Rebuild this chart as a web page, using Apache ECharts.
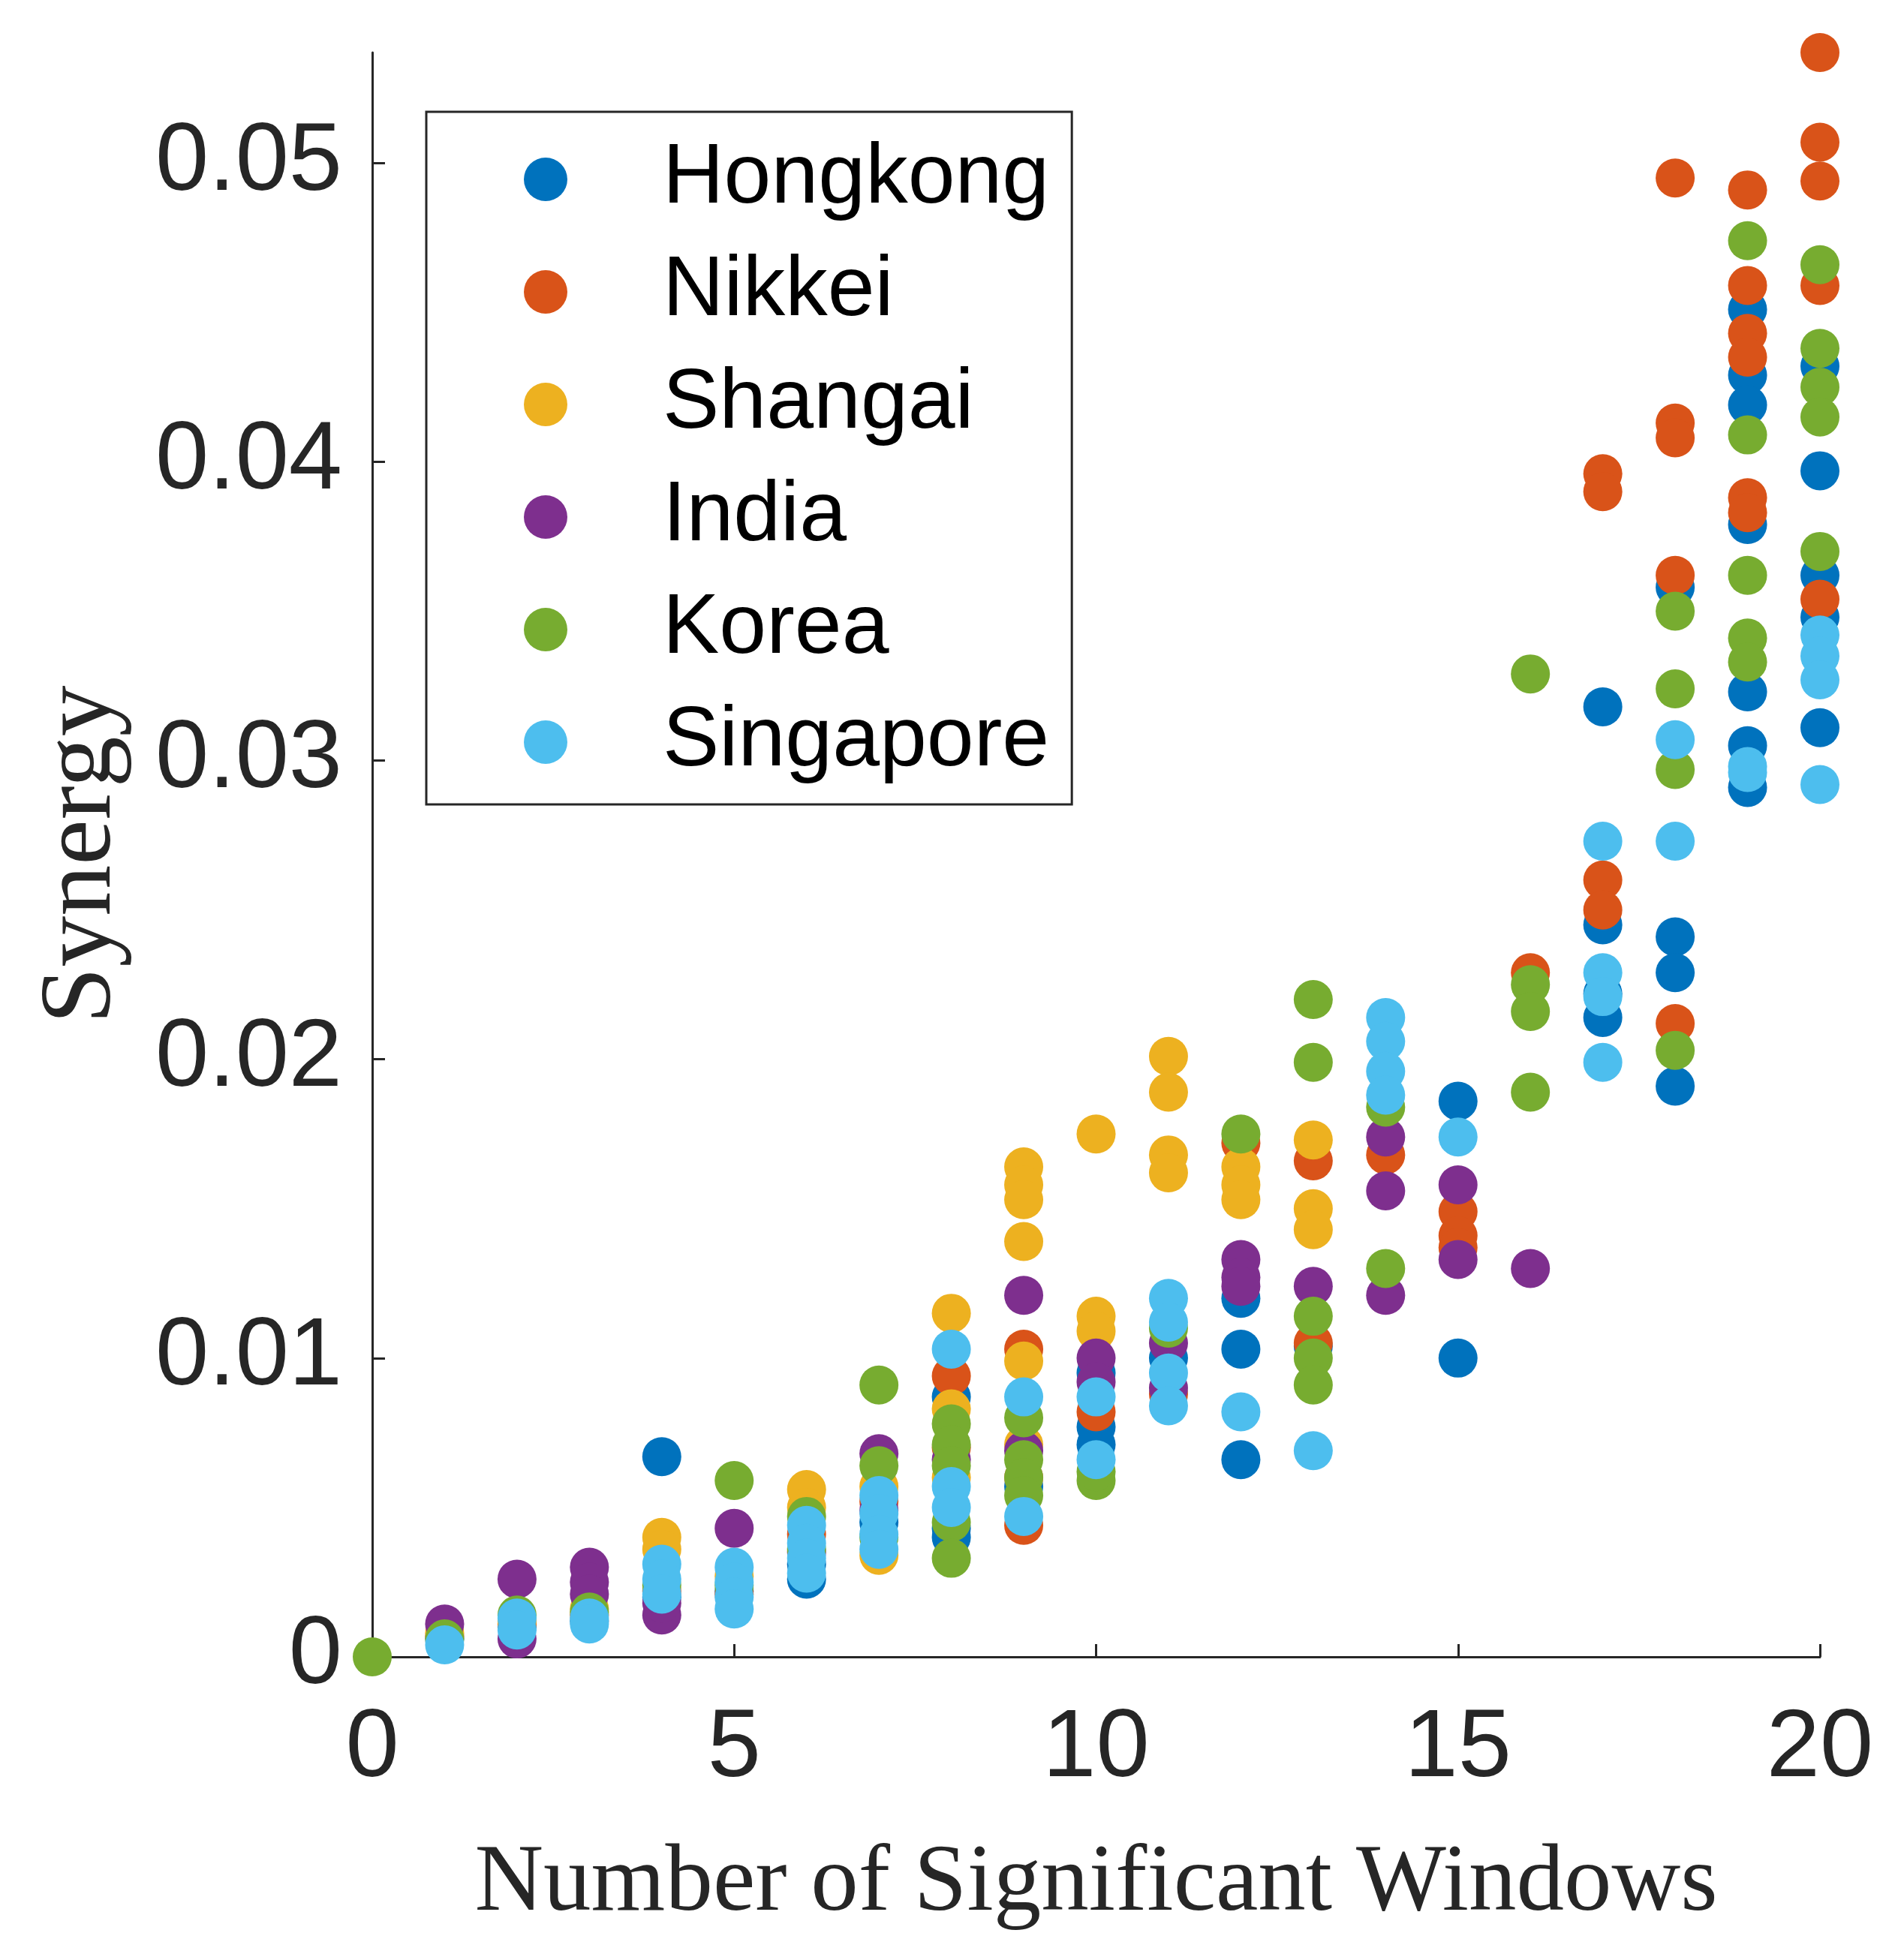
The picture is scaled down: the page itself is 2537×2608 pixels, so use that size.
<!DOCTYPE html>
<html>
<head>
<meta charset="utf-8">
<script src="https://cdn.jsdelivr.net/npm/echarts@6/dist/echarts.min.js"></script>
<style>
  html, body { margin: 0; padding: 0; background: #fff; }
  #chart { width: 2537px; height: 2608px; }
</style>
</head>
<body>
<div id="chart"></div>
<script>
// [windows, synergy] pairs per market
const hongkong = [
  [1, 0.0006], [2, 0.0010], [3, 0.0012], [4, 0.0067], [4, 0.0020], [5, 0.0022],
  [6, 0.0026], [6, 0.0031], [7, 0.0045], [8, 0.0087], [8, 0.0043], [8, 0.0040],
  [9, 0.0057], [10, 0.0095], [10, 0.0077], [10, 0.0071], [11, 0.0100],
  [12, 0.0120], [12, 0.0103], [12, 0.0066], [13, 0.0104], [15, 0.0186], [15, 0.0100],
  [17, 0.0318], [17, 0.0245], [17, 0.0222], [17, 0.0214],
  [18, 0.0358], [18, 0.0241], [18, 0.0229], [18, 0.0191],
  [19, 0.0451], [19, 0.0429], [19, 0.0419], [19, 0.0379], [19, 0.0323], [19, 0.0305], [19, 0.0291],
  [20, 0.0432], [20, 0.0397], [20, 0.0362], [20, 0.0348], [20, 0.0311]
];
const nikkei = [
  [1, 0.0007], [2, 0.0011], [3, 0.0014], [4, 0.0022], [5, 0.0021], [6, 0.0041],
  [7, 0.0052], [8, 0.0094], [8, 0.0070], [9, 0.0103], [9, 0.0060], [9, 0.0044],
  [10, 0.0082], [11, 0.0088], [12, 0.0172], [13, 0.0166], [13, 0.0105], [14, 0.0168],
  [15, 0.0149], [15, 0.0141], [15, 0.0137], [16, 0.0229],
  [17, 0.0396], [17, 0.0390], [17, 0.0260], [17, 0.0250],
  [18, 0.0495], [18, 0.0413], [18, 0.0408], [18, 0.0362], [18, 0.0212],
  [19, 0.0491], [19, 0.0459], [19, 0.0443], [19, 0.0435], [19, 0.0388], [19, 0.0383],
  [20, 0.0537], [20, 0.0507], [20, 0.0494], [20, 0.0459], [20, 0.0354]
];
const shangai = [
  [1, 0.0008], [2, 0.0012], [3, 0.0016], [4, 0.0040], [4, 0.0036], [5, 0.0027],
  [6, 0.0056], [6, 0.0050], [7, 0.0034], [7, 0.0057], [8, 0.0115], [8, 0.0083], [8, 0.0060],
  [9, 0.0164], [9, 0.0158], [9, 0.0153], [9, 0.0139], [9, 0.0099], [9, 0.0071],
  [10, 0.0175], [10, 0.0114], [10, 0.0109],
  [11, 0.0201], [11, 0.0189], [11, 0.0168], [11, 0.0162],
  [12, 0.0164], [12, 0.0158], [12, 0.0153], [13, 0.0173], [13, 0.0150], [13, 0.0143]
];
const india = [
  [1, 0.0011], [2, 0.0026], [2, 0.0006], [3, 0.0030], [3, 0.0025], [3, 0.0021],
  [4, 0.0014], [4, 0.0018], [5, 0.0043], [6, 0.0035], [7, 0.0068], [7, 0.0049],
  [8, 0.0066], [9, 0.0121], [9, 0.0069], [10, 0.0100], [10, 0.0092],
  [11, 0.0105], [11, 0.0090], [12, 0.0133], [12, 0.0127], [12, 0.0124], [13, 0.0124],
  [14, 0.0174], [14, 0.0156], [14, 0.0121], [15, 0.0158], [15, 0.0133], [16, 0.0130]
];
const korea = [
  [0, 0.0000], [1, 0.0006], [2, 0.0014], [3, 0.0015], [4, 0.0024], [5, 0.0059], [5, 0.0024],
  [6, 0.0047], [6, 0.0036], [7, 0.0091], [7, 0.0064], [7, 0.0040],
  [8, 0.0078], [8, 0.0071], [8, 0.0064], [8, 0.0045], [8, 0.0033],
  [9, 0.0080], [9, 0.0066], [9, 0.0060], [9, 0.0054], [10, 0.0059], [10, 0.0062],
  [11, 0.0110], [12, 0.0175],
  [13, 0.0220], [13, 0.0199], [13, 0.0114], [13, 0.0100], [13, 0.0091],
  [14, 0.0184], [14, 0.0130],
  [16, 0.0329], [16, 0.0225], [16, 0.0216], [16, 0.0189],
  [18, 0.0350], [18, 0.0324], [18, 0.0297], [18, 0.0203],
  [19, 0.0474], [19, 0.0409], [19, 0.0362], [19, 0.0341], [19, 0.0333],
  [20, 0.0466], [20, 0.0438], [20, 0.0425], [20, 0.0415], [20, 0.0370]
];
const singapore = [
  [1, 0.0004], [2, 0.0013], [2, 0.0009], [3, 0.0013], [3, 0.0011],
  [4, 0.0031], [4, 0.0026], [4, 0.0021], [5, 0.0030], [5, 0.0025], [5, 0.0020], [5, 0.0016],
  [6, 0.0044], [6, 0.0038], [6, 0.0033], [6, 0.0028], [7, 0.0054], [7, 0.0048], [7, 0.0041], [7, 0.0036],
  [8, 0.0103], [8, 0.0057], [8, 0.0050], [9, 0.0087], [9, 0.0047], [10, 0.0087], [10, 0.0066],
  [11, 0.0120], [11, 0.0112], [11, 0.0095], [11, 0.0084], [12, 0.0082], [13, 0.0069],
  [14, 0.0214], [14, 0.0206], [14, 0.0196], [14, 0.0188], [15, 0.0174],
  [17, 0.0273], [17, 0.0229], [17, 0.0221], [17, 0.0199], [18, 0.0307], [18, 0.0273],
  [19, 0.0298], [19, 0.0296], [20, 0.0342], [20, 0.0335], [20, 0.0327], [20, 0.0292]
];

const marketNames = ['Hongkong', 'Nikkei', 'Shangai', 'India', 'Korea', 'Singapore'];
const marketData = [hongkong, nikkei, shangai, india, korea, singapore];
const colors = ['#0072BD', '#D95319', '#EDB120', '#7E2F8E', '#77AC30', '#4DBEEE'];
const yTicks = [0, 0.01, 0.02, 0.03, 0.04, 0.05];

const chart = echarts.init(document.getElementById('chart'));
const axisColor = '#262626';

chart.setOption({
  backgroundColor: '#fff',
  animation: false,
  color: colors,
  grid: { left: 496, right: 112, top: 70, bottom: 400 },
  legend: {
    orient: 'vertical',
    left: 568,
    top: 149,
    padding: [15, 30, 8, 130],
    itemWidth: 58,
    itemHeight: 58,
    itemGap: 0,
    icon: 'circle',
    borderColor: axisColor,
    borderWidth: 3,
    backgroundColor: '#fff',
    textStyle: {
      fontFamily: 'Liberation Sans',
      fontSize: 113,
      color: '#000',
      lineHeight: 150,
      padding: [0, 0, 0, 122]
    },
    data: marketNames
  },
  xAxis: {
    type: 'value',
    min: 0,
    max: 20,
    interval: 5,
    name: 'Number of Significant Windows',
    nameLocation: 'middle',
    nameGap: 240,
    nameTextStyle: { fontFamily: 'Liberation Serif', fontSize: 127, color: axisColor },
    axisLine: { lineStyle: { color: axisColor, width: 3 } },
    axisTick: { inside: true, length: 17, lineStyle: { color: axisColor, width: 3 } },
    axisLabel: { fontFamily: 'Liberation Sans', fontSize: 128, color: axisColor, margin: 60 },
    splitLine: { show: false }
  },
  yAxis: {
    type: 'value',
    min: 0,
    max: 0.0537,
    name: 'Synergy',
    nameLocation: 'middle',
    nameGap: 318,
    nameTextStyle: { fontFamily: 'Liberation Serif', fontSize: 136, color: axisColor },
    axisLine: { show: true, lineStyle: { color: axisColor, width: 3 } },
    axisTick: { show: true, inside: true, length: 17, customValues: yTicks, lineStyle: { color: axisColor, width: 3 } },
    axisLabel: {
      customValues: yTicks,
      fontFamily: 'Liberation Sans',
      fontSize: 128,
      color: axisColor,
      margin: 40,
      formatter: v => (v === 0 ? '0' : v.toFixed(2))
    },
    splitLine: { show: false }
  },
  series: marketNames.map((name, i) => ({
    name: name,
    type: 'scatter',
    clip: false,
    symbol: 'circle',
    symbolSize: 52,
    itemStyle: { color: colors[i], opacity: 1 },
    data: marketData[i],
    z: 2 + i
  }))
});
</script>
</body>
</html>
